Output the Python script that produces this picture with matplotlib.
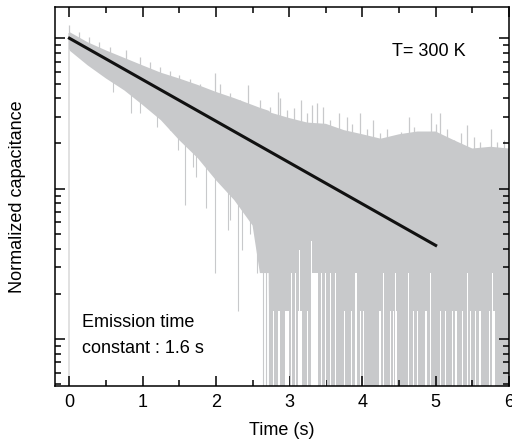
#%% Libraries
import matplotlib
matplotlib.use('Agg')
import matplotlib.pyplot as plt
from matplotlib.ticker import LogLocator, NullFormatter, MultipleLocator
import numpy as np

plt.rcParams['font.family'] = ['Liberation Sans', 'DejaVu Sans']
plt.rcParams['font.size'] = 13

#%% Data
# envelope of the gray capacitance transient (time in s)
t_env = [0, 0.25, 0.5, 0.75, 1.0, 1.25, 1.5, 1.75, 2.0, 2.25, 2.5, 2.6, 2.72,
         2.75, 3.0, 3.25, 3.5, 3.75, 4.0, 4.25, 4.5, 4.75, 5.0, 5.25, 5.5,
         5.75, 6.0]
c_upper = [1.10, 0.94, 0.83, 0.74, 0.66, 0.59, 0.54, 0.49, 0.44, 0.40, 0.36,
           0.345, 0.33, 0.32, 0.295, 0.275, 0.27, 0.245, 0.23, 0.215, 0.23,
           0.24, 0.24, 0.21, 0.185, 0.19, 0.185]
c_lower = [0.83, 0.66, 0.54, 0.45, 0.36, 0.285, 0.21, 0.16, 0.114, 0.084,
           0.057, 0.0275, 0.0275, 0.001, 0.001, 0.001, 0.001, 0.001, 0.001,
           0.001, 0.001, 0.001, 0.001, 0.001, 0.001, 0.001, 0.001]

# spikes going down out of the band
spike_dn_t = [0.0, 0.59, 0.845, 0.96, 1.19, 1.37, 1.48, 1.575, 1.69, 1.73,
              1.87, 1.985, 2.10, 2.17, 2.19, 2.30, 2.33, 2.35, 2.46, 2.555,
              2.64, 2.68, 2.73]
spike_dn_c = [0.001, 0.44, 0.32, 0.32, 0.256, 0.245, 0.18, 0.078, 0.139,
              0.119, 0.075, 0.0275, 0.119, 0.053, 0.062, 0.0155, 0.088, 0.039,
              0.05, 0.0275, 0.001, 0.001, 0.001]

# spikes going up out of the band
spike_up_t = [0.0, 0.137, 0.27, 0.41, 0.55, 0.775, 0.96, 1.095, 1.23, 1.37,
              1.5, 1.64, 1.78, 1.985, 2.05, 2.19, 2.33, 2.44, 2.6, 2.74, 2.85,
              2.87, 2.97, 3.06, 3.16, 3.24, 3.31, 3.38, 3.46, 3.56, 3.68, 3.79,
              3.86, 3.97, 4.06, 4.15, 4.24, 4.335, 4.43, 4.52, 4.63, 4.70,
              4.79, 4.93, 5.0, 5.065, 5.16, 5.25, 5.34, 5.43, 5.52, 5.61, 5.75,
              5.84, 5.93]
spike_up_c = [1.22, 1.10, 1.02, 0.945, 0.875, 0.83, 0.75, 0.70, 0.645, 0.61,
              0.57, 0.54, 0.50, 0.585, 0.50, 0.43, 0.387, 0.49, 0.387, 0.35,
              0.44, 0.40, 0.332, 0.343, 0.387, 0.317, 0.359, 0.37, 0.35, 0.285,
              0.32, 0.30, 0.27, 0.32, 0.25, 0.285, 0.234, 0.25, 0.22, 0.237,
              0.30, 0.256, 0.234, 0.32, 0.27, 0.32, 0.25, 0.21, 0.234, 0.264,
              0.22, 0.204, 0.25, 0.204, 0.21]

# white gaps at the noise floor (time, width, top level)
gap_t = [2.79, 2.86, 2.97, 3.035, 3.08, 3.145, 3.135, 3.25, 3.355, 3.31, 3.44,
         3.49, 3.57, 3.63, 3.755, 3.85, 3.91, 3.97, 4.015, 4.24, 4.29, 4.38,
         4.43, 4.455, 4.45, 4.63, 4.70, 4.75, 4.87, 4.93, 5.065, 5.13, 5.225,
         5.27, 5.29, 5.36, 5.43, 5.475, 5.545, 5.60, 5.73, 5.79, 5.77]
gap_w = [0.015, 0.03, 0.055, 0.014, 0.014, 0.055, 0.014, 0.014, 0.09, 0.014,
         0.014, 0.014, 0.014, 0.014, 0.014, 0.012, 0.025, 0.014, 0.014, 0.014,
         0.014, 0.014, 0.014, 0.03, 0.014, 0.014, 0.014, 0.014, 0.025, 0.014,
         0.014, 0.014, 0.014, 0.014, 0.014, 0.014, 0.014, 0.014, 0.014, 0.028,
         0.014, 0.035, 0.014]
gap_top = [0.0153, 0.0153, 0.0153, 0.0275, 0.0275, 0.0153, 0.039, 0.0153,
           0.0275, 0.045, 0.0275, 0.0275, 0.0275, 0.0275, 0.0153, 0.0153,
           0.0275, 0.0153, 0.0153, 0.0153, 0.0275, 0.0153, 0.0153, 0.0153,
           0.0275, 0.0275, 0.0153, 0.0153, 0.0153, 0.0275, 0.0153, 0.0153,
           0.0153, 0.0153, 0.0153, 0.0153, 0.0275, 0.0153, 0.0153, 0.0153,
           0.0153, 0.0153, 0.0275]

# exponential fit, tau = 1.6 s
t_fit = [0, 5]
c_fit = [1.0, 0.042]

#%% Figure
fig = plt.figure(figsize=(5.12, 4.46), dpi=100)
ax = fig.add_axes([0.107, 0.135, 0.887, 0.849])

gray = '#c8c9cb'
floor = 0.001

ax.fill_between(t_env, c_lower, c_upper, color=gray, linewidth=0, zorder=1)

# down spikes start a little inside the band
base_dn = np.interp(spike_dn_t, t_env, c_lower) * 1.3
ax.vlines(spike_dn_t[1:], spike_dn_c[1:], base_dn[1:], color=gray,
          linewidth=0.8, zorder=1)
ax.vlines(spike_dn_t[0], spike_dn_c[0], base_dn[0], color='#d9d9d9',
          linewidth=1.1, zorder=1)

base_up = np.interp(spike_up_t, t_env, c_upper) / 1.3
ax.vlines(spike_up_t, base_up, spike_up_c, color=gray, linewidth=0.9, zorder=1)

gap_h = [g - floor for g in gap_top]
ax.bar(gap_t, gap_h, bottom=floor, width=gap_w, color='white', linewidth=0,
       zorder=2)

ax.plot(t_fit, c_fit, color='#111111', linewidth=2.2, zorder=3)

#%% Axes
ax.set_yscale('log')
ax.set_ylim(0.0049, 1.61)
ax.set_xlim(-0.2, 6.0)
ax.yaxis.set_major_locator(LogLocator(base=10))
ax.yaxis.set_minor_locator(LogLocator(base=10, subs=np.arange(2, 10)))
ax.yaxis.set_major_formatter(NullFormatter())
ax.yaxis.set_minor_formatter(NullFormatter())
ax.set_xticks(range(7))
ax.xaxis.set_minor_locator(MultipleLocator(0.5))

ax.tick_params(which='both', direction='in', top=True, right=True,
               width=1.1, labelsize=13, pad=6)
ax.tick_params(which='major', length=7)
ax.tick_params(which='minor', length=4)
for s in ax.spines.values():
    s.set_linewidth(1.1)

ax.set_xlabel('Time (s)', fontsize=13)
ax.set_ylabel('Normalized capacitance', fontsize=13)
ax.xaxis.set_label_coords(0.5, -0.095)
ax.yaxis.set_label_coords(-0.064, 0.5)

ax.text(0.742, 0.871, 'T= 300 K', transform=ax.transAxes, fontsize=13,
        ha='left', va='baseline')
ax.text(0.059, 0.156, 'Emission time', transform=ax.transAxes, fontsize=13,
        ha='left', va='baseline')
ax.text(0.059, 0.087, 'constant : 1.6 s', transform=ax.transAxes,
        fontsize=13, ha='left', va='baseline')

fig.savefig('out.png', dpi=100)
